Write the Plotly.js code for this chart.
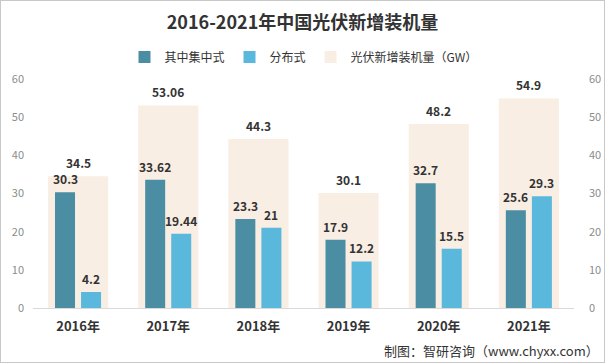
<!DOCTYPE html>
<html>
<head>
<meta charset="utf-8">
<script src="https://cdn.plot.ly/plotly-3.0.1.min.js"></script>
<style>
html,body{margin:0;padding:0;background:#fff;}
#chart{width:603px;height:361px;border:1px solid #c8c8c8;}
</style>
</head>
<body>
<div id="chart"></div>
<script>
var years = ['2016年','2017年','2018年','2019年','2020年','2021年'];
var totalGW = [34.5, 53.06, 44.3, 30.1, 48.2, 54.9];
var centralized = [30.3, 33.62, 23.3, 17.9, 32.7, 25.6];
var distributed = [4.2, 19.44, 21, 12.2, 15.5, 29.3];
var seriesNames = ['其中集中式', '分布式', '光伏新增装机量（GW）'];
var yTicks = [0, 10, 20, 30, 40, 50, 60];

var FONT = '"Noto Sans CJK SC", "Noto Sans", sans-serif';
var labelFont = {family: FONT, size: 12, color: '#333333', weight: 'bold'};

var TOTAL_W = 0.667, TOTAL_OFF = -0.333;
var BAR_W = 0.222, DARK_OFF = -0.256, LIGHT_OFF = 0.033;

var traces = [
  {
    type: 'bar', name: seriesNames[2], x: years, y: totalGW,
    marker: {color: '#f9eee4'}, width: TOTAL_W, offset: TOTAL_OFF,
    legendrank: 3, hoverinfo: 'skip'
  },
  {
    type: 'bar', name: seriesNames[0], x: years, y: centralized,
    marker: {color: '#4b8ea3'}, width: BAR_W, offset: DARK_OFF,
    legendrank: 1
  },
  {
    type: 'bar', name: seriesNames[1], x: years, y: distributed,
    marker: {color: '#5ab8dc'}, width: BAR_W, offset: LIGHT_OFF,
    legendrank: 2
  },
  {
    type: 'scatter', mode: 'markers', x: years, y: totalGW, yaxis: 'y2',
    showlegend: false, hoverinfo: 'skip', marker: {opacity: 0}
  }
];

function labels(vals, off, w) {
  return vals.map(function (v, i) {
    return {
      xref: 'x', yref: 'y', x: i + off + w / 2, y: v,
      text: String(v), showarrow: false, xanchor: 'center', yanchor: 'bottom',
      yshift: 3, font: labelFont
    };
  });
}

var annotations = [].concat(
  labels(totalGW, TOTAL_OFF, TOTAL_W),
  labels(centralized, DARK_OFF, BAR_W),
  labels(distributed, LIGHT_OFF, BAR_W),
  [{
    text: '制图：智研咨询（www.chyxx.com）',
    xref: 'paper', yref: 'paper', x: (600 - 32) / 541, xanchor: 'right',
    y: -42/229, yanchor: 'middle', showarrow: false,
    font: {family: FONT, size: 13, color: '#333333'}
  }]
);

var layout = {
  width: 603, height: 361,
  margin: {l: 32, r: 30, t: 78, b: 54},
  paper_bgcolor: '#ffffff', plot_bgcolor: '#ffffff',
  font: {family: FONT, color: '#333333'},
  barmode: 'overlay',
  showlegend: true,
  title: {
    text: '2016-2021年中国光伏新增装机量',
    font: {family: FONT, size: 18, color: '#333333', weight: 'bold'},
    x: 0.5, xanchor: 'center', xref: 'container',
    y: 1 - 22/361, yanchor: 'middle', yref: 'container'
  },
  legend: {
    orientation: 'h', x: 0.5, xanchor: 'center', y: 1.096, yanchor: 'middle',
    font: {family: FONT, size: 12, color: '#333333'},
    traceorder: 'normal', itemwidth: 30
  },
  xaxis: {
    type: 'category', showgrid: false, zeroline: false,
    showline: true, linecolor: '#d9d9d9', linewidth: 1,
    ticks: '', tickfont: {family: FONT, size: 13, color: '#333333', weight: 'bold'},
    ticklabelstandoff: 6
  },
  yaxis: {
    range: [0, 60], tickvals: yTicks, showgrid: false, zeroline: false,
    showline: false, ticks: '', tickfont: {family: FONT, size: 11, color: '#8c8c8c'},
    ticklabelstandoff: 8
  },
  yaxis2: {
    range: [0, 60], tickvals: yTicks, overlaying: 'y', side: 'right',
    showgrid: false, zeroline: false, showline: false, ticks: '',
    tickfont: {family: FONT, size: 11, color: '#8c8c8c'},
    ticklabelstandoff: 14
  },
  annotations: annotations
};

Plotly.newPlot('chart', traces, layout, {displayModeBar: false, staticPlot: true});
</script>
</body>
</html>
